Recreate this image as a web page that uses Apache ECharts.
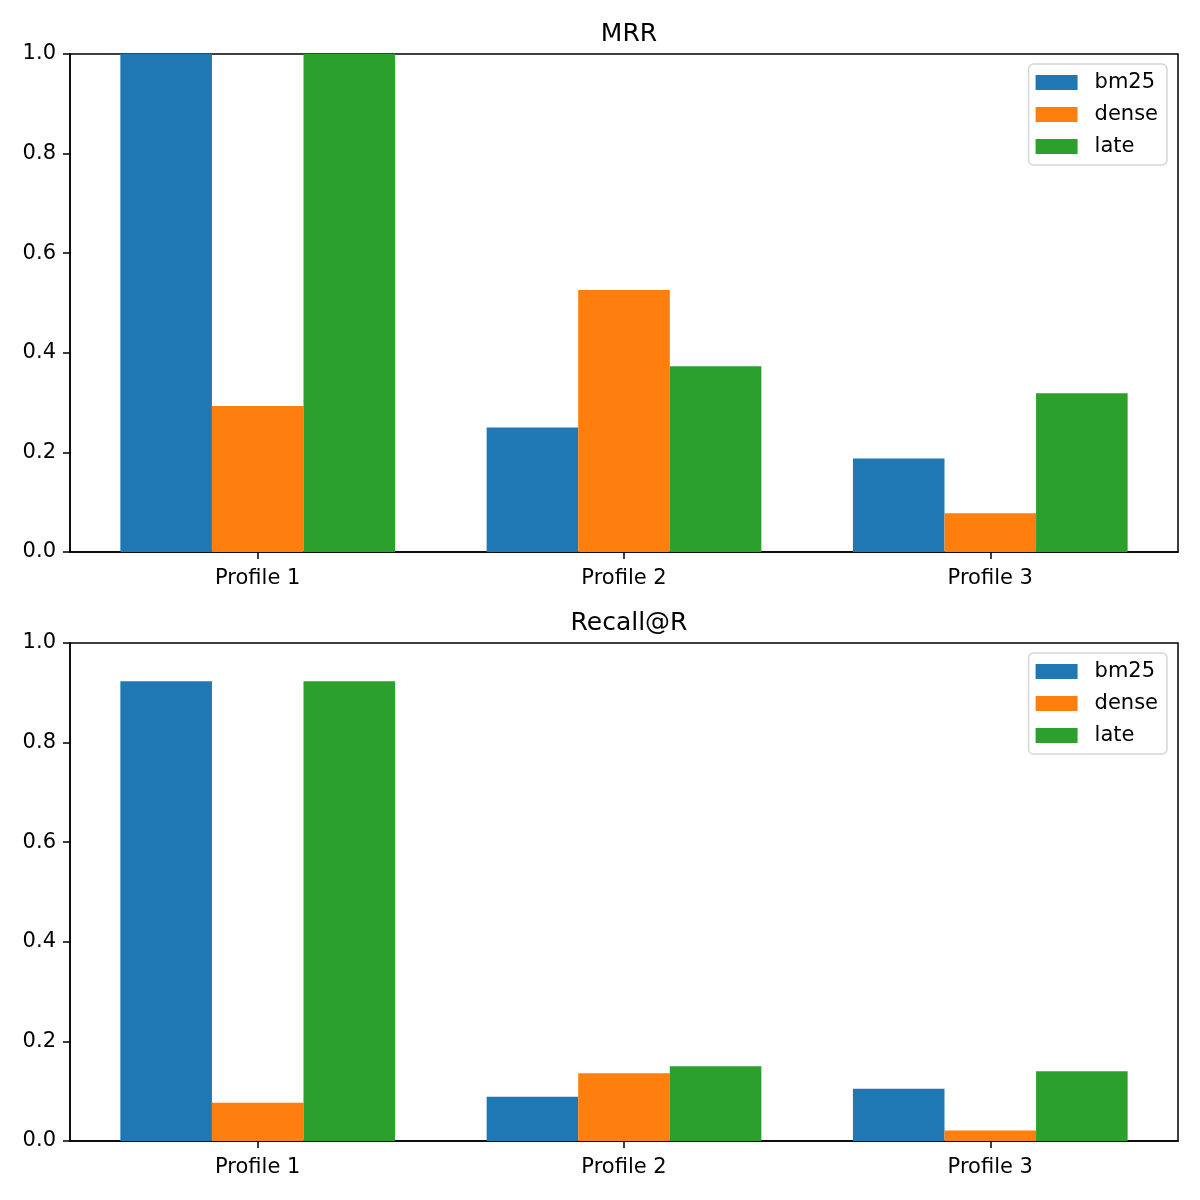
<!DOCTYPE html>
<html>
<head>
<meta charset="utf-8">
<script src="https://cdn.jsdelivr.net/npm/echarts@6/dist/echarts.min.js"></script>
<style>
  html, body { margin: 0; padding: 0; background: #fff; }
  #chart { width: 1200px; height: 1200px; }
</style>
</head>
<body>
<div id="chart"></div>
<script>
const categories = ['Profile 1', 'Profile 2', 'Profile 3']
const seriesNames = ['bm25', 'dense', 'late']
const colors = ['#1f77b4', '#ff7f0e', '#2ca02c']

// MRR panel
const mrrBm25 = [1.0, 0.250, 0.188]
const mrrDense = [0.293, 0.526, 0.078]
const mrrLate = [1.0, 0.373, 0.319]

// Recall@R panel
const recallBm25 = [0.923, 0.089, 0.105]
const recallDense = [0.077, 0.136, 0.021]
const recallLate = [0.923, 0.150, 0.140]

const yTicks = [0, 0.2, 0.4, 0.6, 0.8, 1.0]

const font = 'DejaVu Sans'
const chart = echarts.init(document.getElementById('chart'))

// matplotlib-like x range: bars of width 0.25 at i-0.25, i, i+0.25 plus 5% margins
const barW = 0.25
const xPad = 0.05 * (categories.length - 1 + 3 * barW)
const xMin = -1.5 * barW - xPad
const xMax = categories.length - 1 + 1.5 * barW + xPad
const catIdx = categories.map((c, i) => i)

const plotLeft = 70
const plotRight = 22
const unitPx = (1200 - plotLeft - plotRight) / (xMax - xMin)

const grids = [
  { left: plotLeft, right: plotRight, top: 54, height: 498 },
  { left: plotLeft, right: plotRight, top: 643, height: 498 },
]

function xAxis(i) {
  return {
    type: 'value',
    gridIndex: i,
    min: xMin,
    max: xMax,
    splitLine: { show: false },
    axisLine: { show: true, onZero: false, lineStyle: { color: '#000', width: 1.5 } },
    axisTick: { show: true, customValues: catIdx, length: 7, lineStyle: { color: '#000', width: 1.5 } },
    axisLabel: {
      customValues: catIdx,
      color: '#000', fontFamily: font, fontSize: 21, margin: 16,
      formatter: (v) => categories[Math.round(v)],
    },
  }
}
function yAxis(i) {
  return {
    type: 'value',
    gridIndex: i,
    min: yTicks[0],
    max: yTicks[yTicks.length - 1],
    interval: 0.2,
    splitLine: { show: false },
    axisLine: { show: true, onZero: false, lineStyle: { color: '#000', width: 1.5 } },
    axisTick: { show: true, length: 7, lineStyle: { color: '#000', width: 1.5 } },
    axisLabel: {
      color: '#000', fontFamily: font, fontSize: 21, margin: 14,
      formatter: (v) => v.toFixed(1),
    },
  }
}
function legend(top) {
  return {
    data: seriesNames,
    orient: 'vertical',
    right: 33,
    top: top,
    itemWidth: 42,
    itemHeight: 15,
    itemGap: 11,
    padding: [8, 9, 8, 7],
    borderColor: '#d6d6d6',
    borderWidth: 1.5,
    borderRadius: 5,
    backgroundColor: 'rgba(255,255,255,0.8)',
    icon: 'rect',
    selectedMode: false,
    textStyle: { color: '#000', fontFamily: font, fontSize: 21, padding: [0, 0, 0, 12] },
  }
}
function bars(gridIdx, lists) {
  return lists.map((vals, k) => ({
    name: seriesNames[k],
    type: 'bar',
    xAxisIndex: gridIdx,
    yAxisIndex: gridIdx,
    data: vals.map((v, i) => [i, v]),
    barWidth: barW * unitPx,
    barGap: '0%',
    itemStyle: { color: colors[k] },
  }))
}

const titleStyle = { fontFamily: font, fontSize: 25, fontWeight: 'normal', color: '#000' }
const titleX = plotLeft + (1200 - plotLeft - plotRight) / 2

const option = {
  animation: false,
  backgroundColor: '#fff',
  color: colors,
  title: [
    { text: 'MRR', left: titleX, top: 17, textAlign: 'center', textStyle: titleStyle },
    { text: 'Recall@R', left: titleX, top: 606, textAlign: 'center', textStyle: titleStyle },
  ],
  grid: grids.map(g => Object.assign({ show: true, borderColor: '#000', borderWidth: 1.5 }, g)),
  legend: [legend(64), legend(653)],
  xAxis: [xAxis(0), xAxis(1)],
  yAxis: [yAxis(0), yAxis(1)],
  series: [
    ...bars(0, [mrrBm25, mrrDense, mrrLate]),
    ...bars(1, [recallBm25, recallDense, recallLate]),
  ],
}
chart.setOption(option)
</script>
</body>
</html>
